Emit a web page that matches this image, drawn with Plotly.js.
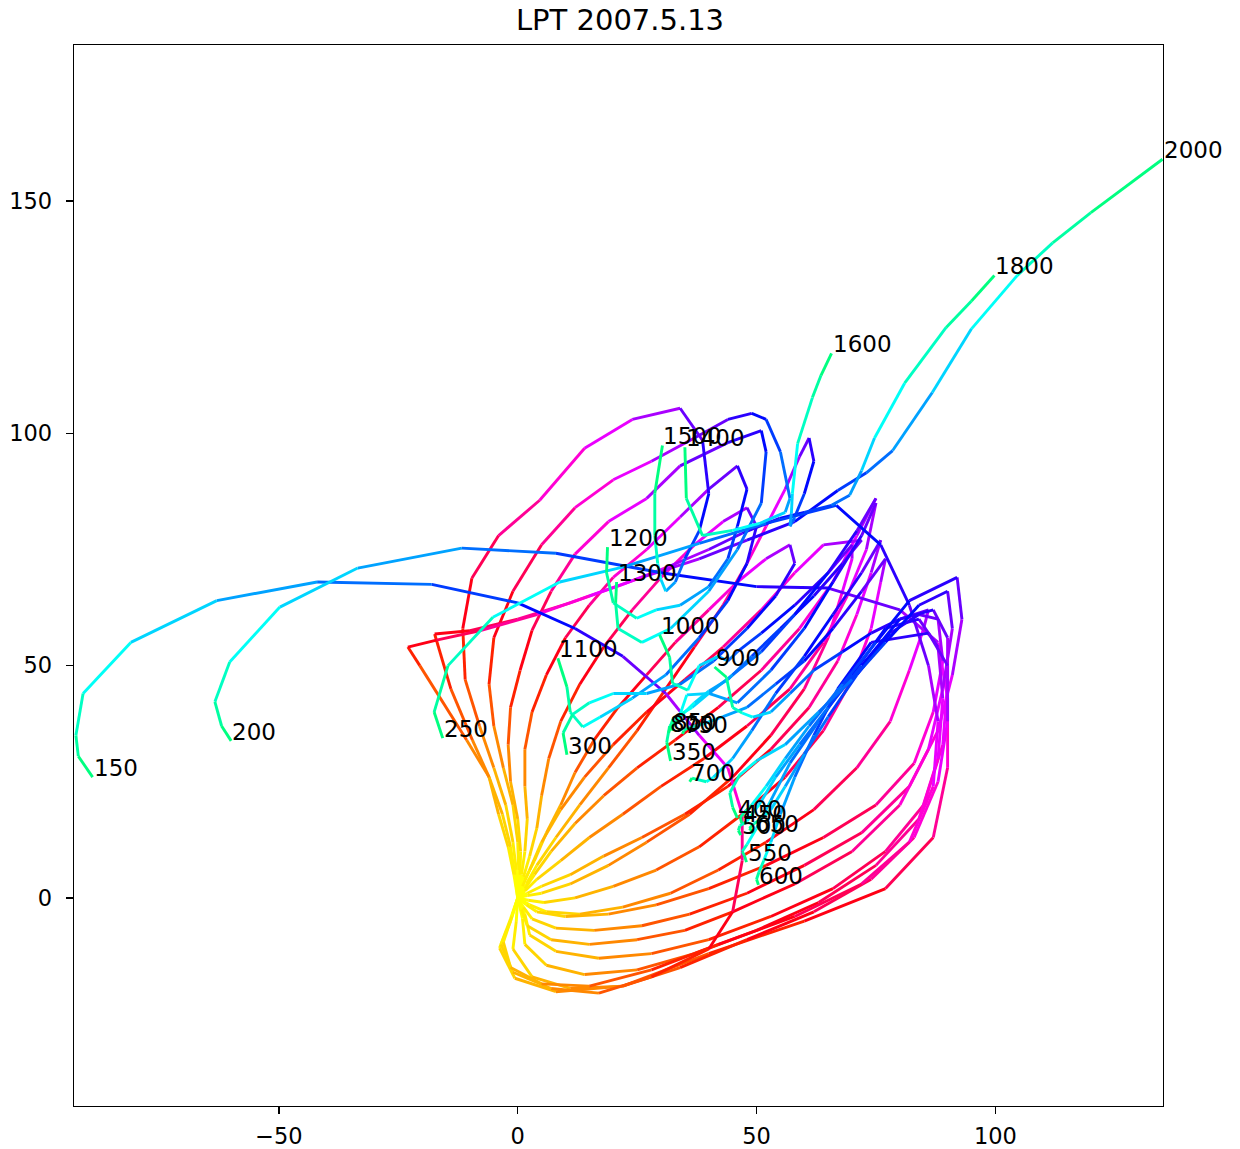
<!DOCTYPE html>
<html>
<head>
<meta charset="utf-8">
<script src="https://cdn.plot.ly/plotly-3.0.1.min.js"></script>
<style>
  html, body { margin: 0; padding: 0; background: #ffffff; }
  #chart { width: 1240px; height: 1149px; }
</style>
</head>
<body>
<div id="chart"></div>
<script>
// Release levels (labels drawn at the end of each trajectory)
const levels = [150, 200, 250, 300, 350, 400, 450, 500, 550, 600, 650, 700, 750,
                800, 850, 900, 1000, 1100, 1200, 1300, 1400, 1500, 1600, 1800, 2000];

// Trajectory positions, one point per time step (25 steps each)
const x150 = [0,-1.5,-3.5,-1,7,17,28,40,45,47,47,44,38,31,22,12,0,-18,-42,-63,-81,-91,-92.5,-92,-89];
const y150 = [0,-5,-10,-16,-19.5,-20.5,-17,-11,-3,8,18,28,35,44,52,58,63.5,67.5,68,64,55,44,35,30.5,26];

const x200 = [0,-1.5,-3.8,-0.6,8,22,40,60,77,87,90,90,88,80,65,50,30,8,-11.7,-33.5,-49.8,-60.3,-63.4,-62,-60];
const y200 = [0,-4.5,-10.8,-17.3,-20.2,-19,-12,-5,2,13,28,43,55,62,66.7,67,70,74.2,75.3,71,62.6,50.8,42.2,37,33.8];

const x250 = [0,-1.2,-3,-1.5,5,15,28,42,58,72,82,87,88,86,82,76,66.7,52,38,22,8.8,-5.2,-14.6,-17.5,-15.7];
const y250 = [0,-4,-9.5,-15,-18.5,-19,-15.5,-10,-4,3,12,24,38,50,63,76,84.5,80.6,76.3,71.2,68,60.4,50,40,34.4];

const x300 = [0,1.5,3.5,6,9,12,16,21,27,33,40,46,52,57,58,54,48,41,34,27,20,15,11.5,9.5,10.3];
const y300 = [0,4,8,14,20,27,34,41,48,55,62,68,73,76,72,65,58,51,46,44,44,42,39.5,35.5,30.8];

const x350 = [0,1.5,4,9,15,22,30,39,48,57,64,69,73,75,72,66,60,53,46,40,35.4,33.5,31.8,31.2,32];
const y350 = [0,1.5,4,8,13,18,24,30,37,45,55,65,75,85,78,68,58,49,42,44,43.7,38,37,33.5,29.5];

const x400 = [0,0.8,2,7,15,25,35,45,58,70,80,86,89,91,90,84,77,70,63,56,50,46.5,44.4,45,46];
const y400 = [0,-2.5,-6,-9,-10,-9,-7,-3,3,10,20,32,45,58,66,63,55,47,40,33,29.5,26.5,22.6,19.5,17.2];

const x450 = [0,1.2,3,8,16,26,36,48,60,72,82,88,91,93,92,82,75,68,61,56,52,49,47.5,46.6,46.9];
const y450 = [0,-2,-4.5,-6.5,-7,-6,-3.5,1,7,14,24,36,48,60,69,64,55,46,37,30,24,20,18.5,17.3,16.1];

const x500 = [0,1.5,2.5,8,17,28,40,53,66,77,85,89,90,90,87,80,72,65,59,54,50.5,48,46.5,46.2,46.7];
const y500 = [0,-3.5,-8,-11.5,-13,-12,-9,-4,2,10,20,33,46,56,62,60,50,41,33,26,20,16.5,15.5,14.5,13.5];

const x550 = [0,1,1.5,6,14,25,37,50,63,75,84,88,89,88,84,77,70,63,57,53,50,48,47,47.5,47.9];
const y550 = [0,-4.5,-10,-14.5,-16.5,-15.5,-12,-7,-1,7,17,30,43,54,60,58,48,38,29,21,15,11.5,10,9,7.7];

const x600 = [0,-0.3,-1,3,11,22,34,48,62,74,83,88,90,90,86,74,67,62,58,55,53,51.5,50.5,50,50.4];
const y600 = [0,-5,-11,-17,-19.5,-19,-15,-9,-3,4,13,25,38,50,57,55,45,35,26,18,12,8,5.5,4,2.8];

const x650 = [0,1.8,4,10,19,29,40,52,64,75,83,87,89,88,84,78,71,65,60,56,53,51,49.5,48.5,49.4];
const y650 = [0,-1.5,-3,-4,-3.5,-1.5,2,7,13,20,29,40,51,60,61,57,48,39,31,24,19,17,16,15,14];

const x700 = [0,2,5,11,18,26,35,44,53,61,67,71,74,76,72,66,60,54,49,45,41,39.5,37.5,36.5,36];
const y700 = [0,1,2.5,5,9,13,18,24,32,41,51,61,70,77,70,61,52,44,36,30,26,25,25.5,25.8,25];

const x750 = [0,2.2,5.5,12,20,29,38,47,56,64,70,74,76,77,72,66,60,54,48,43,39,37,35.5,34.8,34.5];
const y750 = [0,-0.5,-1,0,2.5,6,11,18,26,36,47,58,68,73,66,58,51,46,41,39,37.5,37,36.5,36,35.3];

const x800 = [0,1.5,3.5,7,12,18,25,33,42,51,59,66,71,75,71,65,58,51,45,40,36.5,34,32.5,32,31.6];
const y800 = [0,2,5,10,16,22,28,34,41,49,58,68,78,86,79,70,61,53,48,44,41,39.5,38.5,37,35.5];

const x850 = [0,1,2.5,5,9,14,20,27,35,43,51,58,64,72,68,62,55,49,44,40,37,35,33.5,32.6,32.2];
const y850 = [0,2.5,6,12,19,26,33,40,47,54,62,70,76,77,72,65,58,52,47,44.5,42,40,38.5,37.3,36];

const x900 = [0,2.5,6,13,22,32,42,52,62,71,78,82,85,86,80,74,68,62,57,53,49.2,47,45,43.7,41.2];
const y900 = [0,-1.5,-3,-3.5,-2,1,6,12,19,28,38,49,58,62,60,57,53,49,44,40,38.9,39.8,41,47.5,49.7];

const x1000 = [0,2,5,11,19,27,36,45,53,60,65,68,70,70,65,58,51,46,44,42,38,35.6,32.4,31.8,29.7];
const y1000 = [0,0.5,1,3,7,12,18,26,35,45,56,66,73,76,70,63,57,53,51,52,50,44.7,46.2,51.8,56.6];

const x1100 = [0,1.2,2.5,4,5,6.5,9,13,18,24,30,37,43,48,50,48,44,38,31,24,17.2,13.6,11,10.3,8.4];
const y1100 = [0,4.5,9,15,22,30,38,46,54,62,69,76,81,84,80,72,64,56,48,43,38.9,36.8,40,45.4,51.6];

const x1200 = [0,0.8,1.5,2,1.5,1.5,3,6,10,15,20,27,34,40,46,48,46,44,40,34,29,24.9,20,18.6,18.8];
const y1200 = [0,5,10,17,24,32,40,48,56,63,69,75,82,88,93,88,80,73,67,63,62,60.2,63.5,70,75.5];

const x1300 = [0,0.5,0.6,0,-1.5,-2,-1.5,0.5,3,7,12,19,27,34,44,51,52,51,46,40,32,26,21,20.5,20.7];
const y1300 = [0,5,10,17,25,33,41,49,57.6,66,74,81,86,93,98,100.6,96,85,75,66,58,55,58,63.5,68];

const x1400 = [0,0.2,0,-1,-3,-5,-6,-5,-1,5,12,20,28,37,44,49,52,55,57,56,50.6,45,38.7,35.3,35];
const y1400 = [0,6,12,20,28,37,46,56,66,76,84,90,94,99,103,104.3,103,96,86,83,80.6,79.1,78,86,97];

const x1500 = [0,-0.3,-1,-2.5,-5,-8,-11,-11.5,-9.6,-4,4.6,14,24,34,38.7,40,38,35,33,31,30,29.3,28.7,28.7,30.3];
const y1500 = [0,6,12,20,28,37,47,58,68.8,78,85.6,96.8,103,105.4,98.5,87,79,73,68,66,68.5,72,78,87.1,97.4];

const x1600 = [0,1.8,4,8,13,19,25,31,37,43,48,52,56,59,61,62,60,58,57,57.3,57.5,58.6,61.7,63.5,65.7];
const y1600 = [0,3,7,13,20,28,36,45,54,63,72,80,88,95,99,94,87,82,80,82.8,87,97.8,107.7,112.5,117.2];

const x1800 = [0,-0.6,-1.5,-3.2,-6,-9.5,-14,-17.4,-10,0,11,22,32,40,47,54.8,60,65.7,69.5,72,74.7,81,89.7,95,99.8];
const y1800 = [0,5,11,18,26,34,45,56.8,57.5,60,63.5,67.5,71.5,75,78.5,81.7,83,84.5,86.7,92,99,110.8,122.8,128.5,134];

const x2000 = [0,-0.8,-2,-4,-6,-10.7,-20.5,-23,-17,-8,4,15,26,38,48,58,67,73,78.5,86.8,95,104.6,112,120,135];
const y2000 = [0,5,11,18,26,34,50,54,55.5,57.5,61,65,69,73,77,81,87.7,91.5,96.3,108.8,122.5,134,141,147.5,159];

const tracks = [
  [x150, y150], [x200, y200], [x250, y250], [x300, y300], [x350, y350],
  [x400, y400], [x450, y450], [x500, y500], [x550, y550], [x600, y600],
  [x650, y650], [x700, y700], [x750, y750], [x800, y800], [x850, y850],
  [x900, y900], [x1000, y1000], [x1100, y1100], [x1200, y1200], [x1300, y1300],
  [x1400, y1400], [x1500, y1500], [x1600, y1600], [x1800, y1800], [x2000, y2000]
];

// Hue (degrees) of each time step's segment: yellow, orange, red, magenta, violet, blue, cyan, green
const segHue = [60, 56, 50, 42, 32, 20, 8, -5, -20, -35, -50, -65,
                -80, -95, -110, -122, -134, -146, -158, -170, -182, -194, -202, -210];

function hsvColor(h) {
  h = ((h % 360) + 360) % 360;
  const hp = h / 60, x = 1 - Math.abs((hp % 2) - 1);
  let r = 0, g = 0, b = 0;
  if (hp < 1) { r = 1; g = x; }
  else if (hp < 2) { r = x; g = 1; }
  else if (hp < 3) { g = 1; b = x; }
  else if (hp < 4) { g = x; b = 1; }
  else if (hp < 5) { r = x; b = 1; }
  else { r = 1; b = x; }
  return `rgb(${Math.round(r * 255)},${Math.round(g * 255)},${Math.round(b * 255)})`;
}

const traces = segHue.map((hue, k) => {
  const xs = [], ys = [];
  tracks.forEach(([tx, ty]) => {
    xs.push(tx[k], tx[k + 1], null);
    ys.push(ty[k], ty[k + 1], null);
  });
  return {
    type: 'scatter', mode: 'lines', x: xs, y: ys,
    line: { color: hsvColor(hue), width: 2.9 },
    hoverinfo: 'skip', showlegend: false, connectgaps: false
  };
});

const annotations = levels.map((lv, i) => {
  const [tx, ty] = tracks[i];
  const n = tx.length - 1;
  return {
    x: tx[n], y: ty[n], xref: 'x', yref: 'y', text: String(lv),
    showarrow: false, xanchor: 'left', yanchor: 'bottom', yshift: -6, xshift: -1,
    font: { family: 'DejaVu Sans', size: 23, color: '#000' }
  };
});

const axisCommon = {
  showgrid: false, zeroline: false, showline: true, mirror: true,
  linecolor: '#000', linewidth: 1.3, ticks: 'outside', ticklen: 7,
  tickwidth: 1.3, tickcolor: '#000',
  tickfont: { family: 'DejaVu Sans', size: 22.5, color: '#000' }
};

const layout = {
  width: 1240, height: 1149,
  margin: { l: 74, r: 77, t: 45, b: 43 },
  paper_bgcolor: '#fff', plot_bgcolor: '#fff',
  title: {
    text: 'LPT 2007.5.13', x: 0.5, xanchor: 'center',
    y: 1 - 20 / 1149, yref: 'container', yanchor: 'middle',
    font: { family: 'DejaVu Sans', size: 29, color: '#000' }
  },
  xaxis: Object.assign({}, axisCommon, { range: [-92.9, 135.1], tickvals: [-50, 0, 50, 100], ticklabelstandoff: 3 }),
  yaxis: Object.assign({}, axisCommon, { range: [-44.8, 183.6], tickvals: [0, 50, 100, 150], ticklabelstandoff: 9 }),
  annotations: annotations
};

Plotly.newPlot('chart', traces, layout, { staticPlot: true, displayModeBar: false });
</script>
</body>
</html>
